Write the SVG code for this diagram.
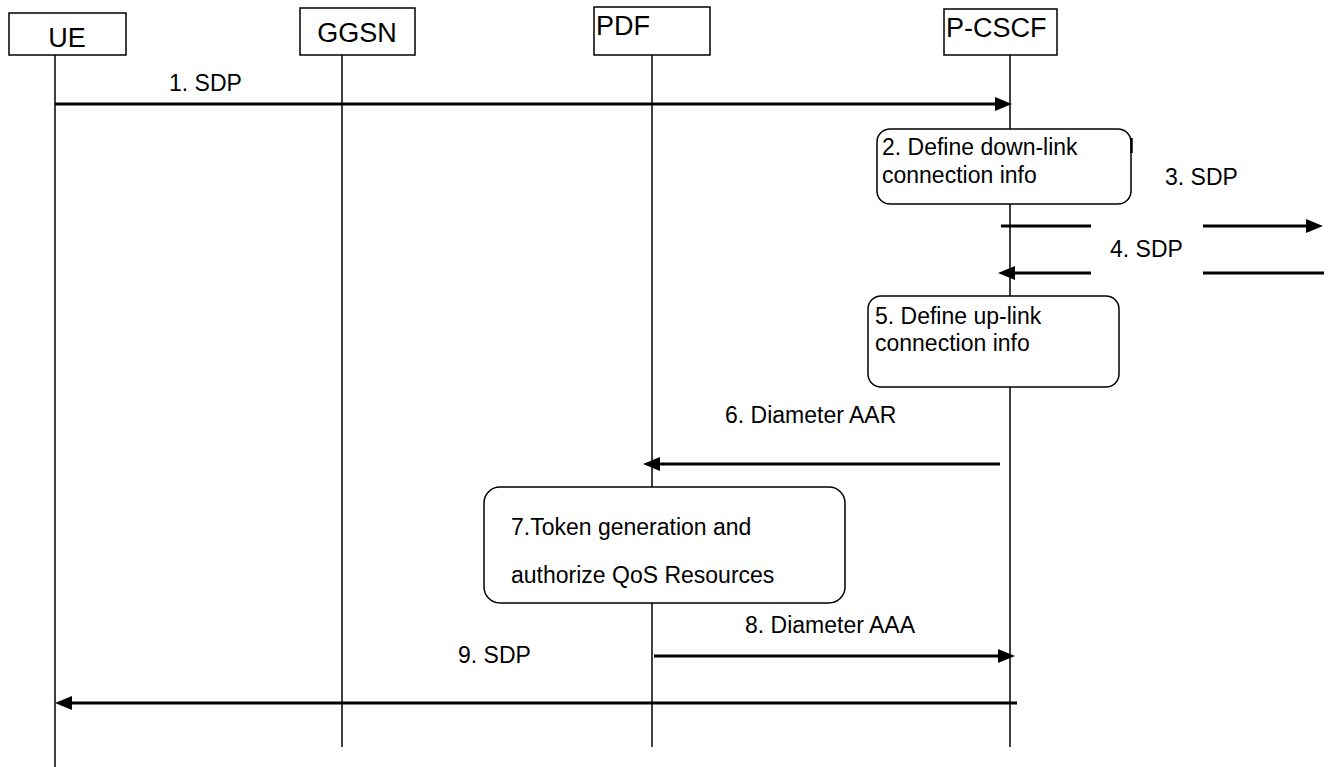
<svg xmlns="http://www.w3.org/2000/svg" width="1335" height="767" viewBox="0 0 1335 767">
<style>
.box{fill:#fff;stroke:#000;stroke-width:1.5}
.life{stroke:#000;stroke-width:1.5;fill:none}
.msg{stroke:#000;stroke-width:3;fill:none}
.hdr{font-family:"Liberation Sans",Arial,sans-serif;font-size:27px;fill:#000}
.lbl{font-family:"Liberation Sans",Arial,sans-serif;font-size:23px;fill:#000}
</style>
<defs>
<marker id="ah" markerUnits="userSpaceOnUse" markerWidth="18" markerHeight="16" refX="0" refY="7" orient="auto">
<path d="M0,0 L17,7 L0,14 z" fill="#000"/>
</marker>
</defs>
<rect width="1335" height="767" fill="#fff"/>
<g id="lifelines">
<line class="life" x1="55" y1="55" x2="55" y2="767"/>
<line class="life" x1="342" y1="55" x2="342" y2="747"/>
<line class="life" x1="652" y1="55" x2="652" y2="747"/>
<line class="life" x1="1010" y1="55" x2="1010" y2="747"/>
</g>
<g id="UE">
<rect class="box" x="9" y="13" width="117" height="42"/>
<text class="hdr" x="67" y="47" text-anchor="middle">UE</text>
</g>
<g id="GGSN">
<rect class="box" x="300" y="8" width="115" height="47"/>
<text class="hdr" x="357" y="42" text-anchor="middle">GGSN</text>
</g>
<g id="PDF">
<rect class="box" x="594" y="7" width="116" height="48"/>
<text class="hdr" x="596" y="35">PDF</text>
</g>
<g id="P-CSCF">
<rect class="box" x="944" y="9" width="113" height="46"/>
<text class="hdr" x="946" y="37">P-CSCF</text>
</g>
<g id="step2">
<rect class="box" x="877" y="129" width="254" height="75" rx="13" ry="13"/>
<line x1="1131.5" y1="138" x2="1131.5" y2="153" stroke="#000" stroke-width="2.5"/>
<text class="lbl" x="882" y="155">2. Define down-link</text>
<text class="lbl" x="882" y="183">connection info</text>
</g>
<g id="step5">
<rect class="box" x="868" y="296" width="251" height="91" rx="13" ry="13"/>
<text class="lbl" x="875" y="324">5. Define up-link</text>
<text class="lbl" x="875" y="351">connection info</text>
</g>
<g id="step7">
<rect class="box" x="484" y="487" width="361" height="116" rx="16" ry="16"/>
<text class="lbl" x="511" y="535">7.Token generation and</text>
<text class="lbl" x="511" y="583">authorize QoS Resources</text>
</g>
<g id="connectors">
<line class="msg" x1="55" y1="104" x2="995" y2="104" marker-end="url(#ah)"/>
<text class="lbl" x="169" y="91">1. SDP</text>
<line class="msg" x1="1001" y1="226" x2="1091" y2="226"/>
<line class="msg" x1="1203" y1="226" x2="1306" y2="226" marker-end="url(#ah)"/>
<text class="lbl" x="1165" y="185">3. SDP</text>
<line class="msg" x1="1324" y1="273" x2="1203" y2="273"/>
<line class="msg" x1="1091" y1="273" x2="1015" y2="273" marker-end="url(#ah)"/>
<text class="lbl" x="1110" y="257">4. SDP</text>
<line class="msg" x1="1000" y1="464" x2="660" y2="464" marker-end="url(#ah)"/>
<text class="lbl" x="725" y="423">6. Diameter AAR</text>
<line class="msg" x1="654" y1="656" x2="998" y2="656" marker-end="url(#ah)"/>
<text class="lbl" x="745" y="633">8. Diameter AAA</text>
<line class="msg" x1="1017" y1="703" x2="72" y2="703" marker-end="url(#ah)"/>
<text class="lbl" x="458" y="663">9. SDP</text>
</g>
</svg>
